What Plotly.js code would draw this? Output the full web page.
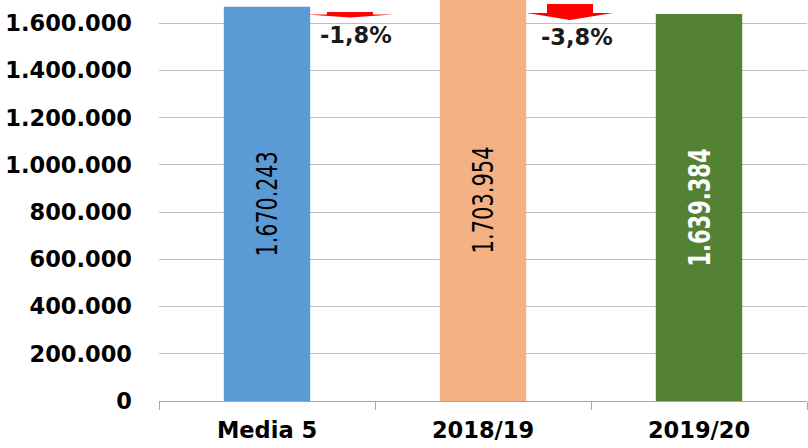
<!DOCTYPE html>
<html><head><meta charset="utf-8">
<script src="https://cdn.plot.ly/plotly-3.0.1.min.js"></script>
<style>html,body{margin:0;padding:0;background:#fff;}#chart{width:808px;height:448px;}</style>
</head><body><div id="chart"></div>
<script>
var categories = ['Media 5', '2018/19', '2019/20'];
var values = [1670243, 1703954, 1639384];
var barColors = ['#5b9bd5', '#f4b183', '#548235'];
var changeLabels = ['-1,8%', '-3,8%'];
var yTickVals = [0, 200000, 400000, 600000, 800000, 1000000, 1200000, 1400000, 1600000];

function fmt(n){ return String(n).replace(/\B(?=(\d{3})+(?!\d))/g, '.'); }

var textLabels = values.map(function(v, i){ return i === 2 ? '<b>' + fmt(v) + '</b>' : fmt(v); });
var textLengths = [105, 107, 118];

// plot geometry (pixels) used only to place the decorative arrows
var L = 159, W = 648, T = 0, H = 401;
function px(x){ return (x - L) / W; }
function py(y){ return (T + H - y) / H; }
function arrowPath(cx, top, neck, tip){
  var hw = 43, sw = 23;
  return 'M' + px(cx - sw) + ',' + py(top) + ' L' + px(cx + sw) + ',' + py(top) +
         ' L' + px(cx + sw) + ',' + py(neck) + ' L' + px(cx + hw) + ',' + py(neck) +
         ' L' + px(cx) + ',' + py(tip) + ' L' + px(cx - hw) + ',' + py(neck) +
         ' L' + px(cx - sw) + ',' + py(neck) + ' Z';
}

var trace = {
  type: 'bar',
  x: categories,
  y: values,
  marker: {color: barColors, line: {width: 0}},
  width: 0.4,
  text: textLabels,
  textposition: 'inside',
  insidetextanchor: 'middle',
  textangle: -90,
  constraintext: 'none',
  textfont: {family: '"DejaVu Sans Condensed", "DejaVu Sans", sans-serif', size: [29, 29, 30], color: ['#000000', '#000000', '#ffffff']},
  hoverinfo: 'none',
  cliponaxis: true
};

var tf = {family: '"DejaVu Sans", Verdana, sans-serif', size: 22.5, weight: 'bold', color: '#000'};

var layout = {
  width: 808, height: 448,
  margin: {l: L, r: 808 - L - W, t: T, b: 448 - T - H, pad: 0},
  paper_bgcolor: '#ffffff', plot_bgcolor: '#ffffff',
  separators: ',.',
  showlegend: false,
  bargap: 0.6,
  font: {family: '"DejaVu Sans", Verdana, sans-serif', color: '#000000'},
  xaxis: {
    type: 'category', range: [-0.5, 2.5], showgrid: false,
    showline: true, linecolor: '#a6a6a6', linewidth: 1,
    ticks: 'outside', tickson: 'boundaries', ticklen: 8, tickcolor: '#a6a6a6',
    ticklabelstandoff: 9,
    tickfont: tf,
    fixedrange: true
  },
  yaxis: {
    range: [0, 1699000], showgrid: true, gridcolor: '#c0c0c0', gridwidth: 1,
    zeroline: false, showline: false, ticks: '', tickvals: yTickVals,
    tickformat: ',d', ticklabelstandoff: 26,
    tickfont: tf,
    fixedrange: true
  },
  shapes: [
    {type: 'path', xref: 'paper', yref: 'paper', path: arrowPath(350, 12, 14.5, 17.5), fillcolor: '#ff0000', line: {width: 0}, layer: 'above'},
    {type: 'path', xref: 'paper', yref: 'paper', path: arrowPath(570, 4, 13, 20), fillcolor: '#ff0000', line: {width: 0}, layer: 'above'}
  ],
  annotations: [
    {xref: 'paper', yref: 'paper', x: px(356), y: py(35), text: '<b>' + changeLabels[0] + '</b>', showarrow: false, xanchor: 'center', yanchor: 'middle', font: {family: '"DejaVu Sans", Verdana, sans-serif', size: 22.5, color: '#1a1a1a'}},
    {xref: 'paper', yref: 'paper', x: px(577), y: py(37), text: '<b>' + changeLabels[1] + '</b>', showarrow: false, xanchor: 'center', yanchor: 'middle', font: {family: '"DejaVu Sans", Verdana, sans-serif', size: 22.5, color: '#1a1a1a'}}
  ]
};

Plotly.newPlot('chart', [trace], layout, {displayModeBar: false, staticPlot: true}).then(function(gd){
  var texts = gd.querySelectorAll('.bars .point text');
  texts.forEach(function(t, i){
    t.setAttribute('textLength', textLengths[i]);
    t.setAttribute('lengthAdjust', 'spacingAndGlyphs');
  });
});
</script></body></html>
